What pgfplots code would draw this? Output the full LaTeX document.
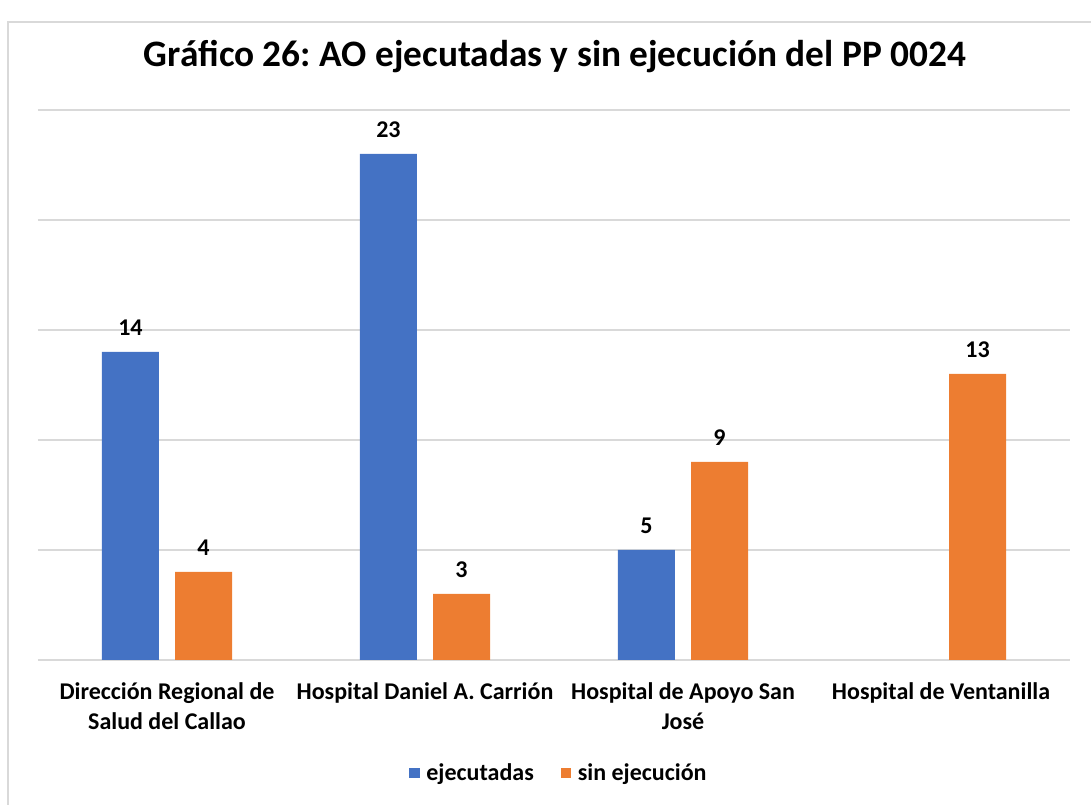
\documentclass[border=0pt]{standalone}
\usepackage{pgfplots}
\pgfplotsset{compat=1.18}
\usepackage{fontspec}
\setmainfont{Carlito}
\frenchspacing
\definecolor{cblue}{HTML}{4472C4}
\definecolor{corange}{HTML}{ED7D31}
\definecolor{cgrid}{HTML}{D9D9D9}
\begin{document}
\begin{tikzpicture}
\draw[cgrid, line width=1.2pt] (6pt,-10pt) rectangle (830pt,587.25pt);
\node[font=\bfseries\fontsize{28}{33}\selectfont] at (416.25pt,561pt) {Gráfico 26: AO ejecutadas y sin ejecución del PP 0024};
\begin{axis}[
  at={(28.5pt,108.75pt)}, anchor=south west,
  scale only axis, width=774pt, height=412.5pt,
  xmin=-0.5, xmax=3.5, ymin=0, ymax=25,
  axis line style={draw=none},
  tick style={draw=none},
  ytick={0,5,...,25}, yticklabels={},
  ymajorgrids, grid style={cgrid, line width=1pt},
  xtick={0,1,2,3},
  xticklabels={{Dirección Regional de\\Salud del Callao},{Hospital Daniel A. Carrión},{Hospital de Apoyo San\\José},{Hospital de Ventanilla}},
  xticklabel style={font=\bfseries\fontsize{18}{22.5}\selectfont, align=center, anchor=north, yshift=-9pt},
  ybar, bar width=42.75pt,
  /pgf/number format/assume math mode=true,
  nodes near coords,
  every node near coord/.append style={font=\bfseries\fontsize{18}{21}\selectfont, black, anchor=south, yshift=9pt},
  legend style={at={(0.505,-0.2055)}, anchor=center, draw=none, fill=none, legend columns=2, font=\bfseries\fontsize{18}{21}\selectfont, /tikz/every even column/.append style={column sep=18pt}, /tikz/every odd column/.append style={column sep=3pt}},
  legend image code/.code={\fill[#1] (0pt,-4pt) rectangle (8pt,4pt);},
  legend cell align=left,
]
\addplot[fill=cblue, draw=none, bar shift=-27.4pt] coordinates {(0,14) (1,23) (2,5)};
\addplot[fill=corange, draw=none, bar shift=27.4pt] coordinates {(0,4) (1,3) (2,9) (3,13)};
\legend{ejecutadas, sin ejecución}
\end{axis}
\pgfresetboundingbox
\useasboundingbox (0,0) rectangle (818.25pt,603.75pt);
\end{tikzpicture}
\end{document}
